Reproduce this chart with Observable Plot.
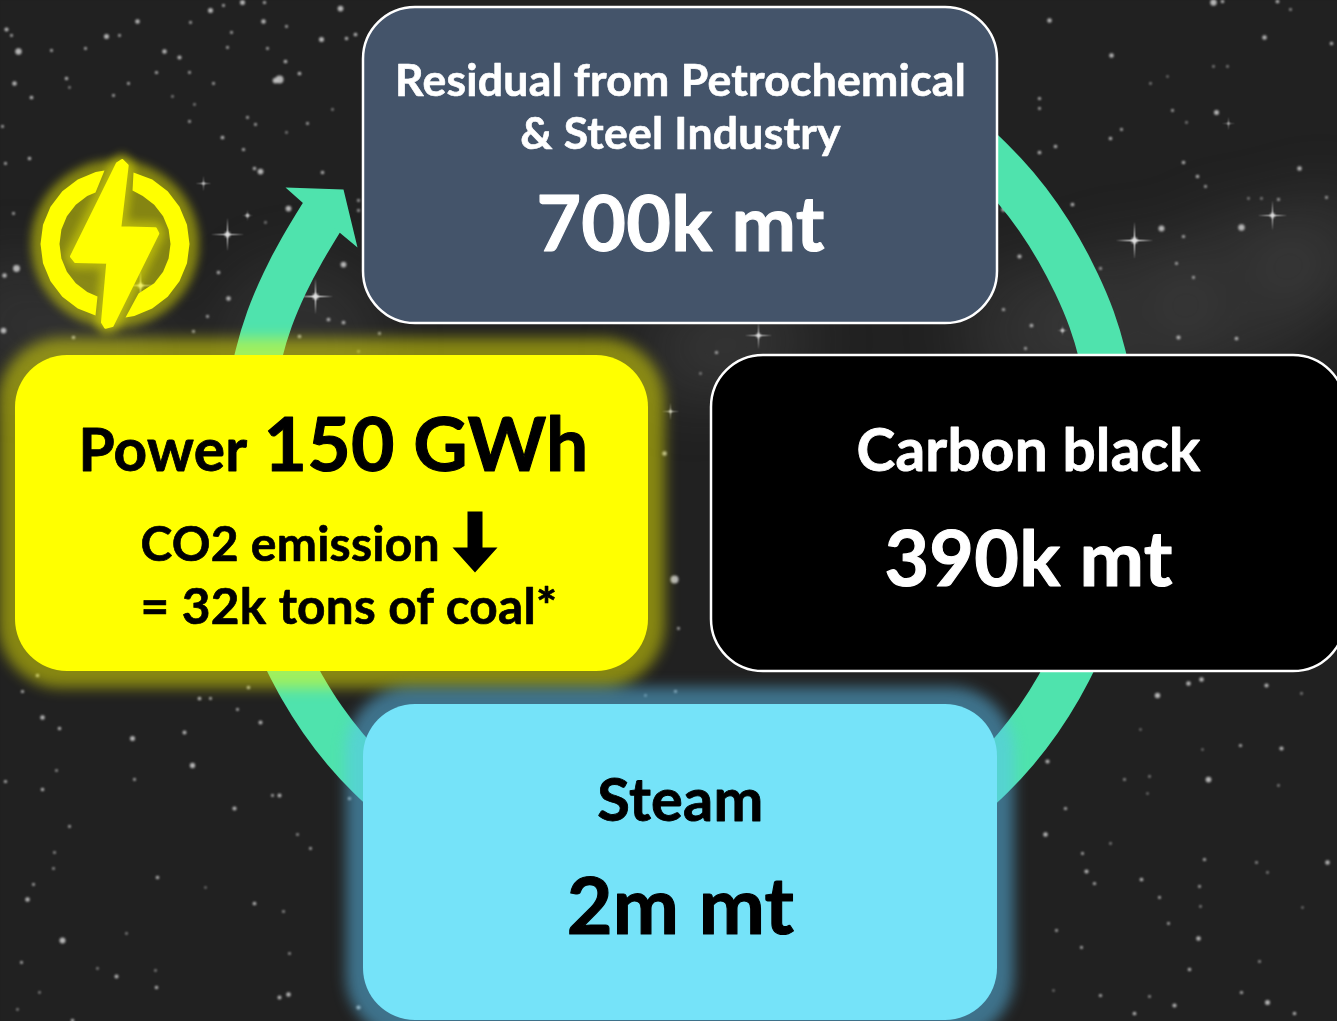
<!DOCTYPE html>
<html><head><meta charset="utf-8">
<style>html,body{margin:0;padding:0;background:#212121;overflow:hidden}svg{display:block;max-width:none}svg text{letter-spacing:.25px}</style>
<script src="https://cdn.jsdelivr.net/npm/d3@7"></script>
<script src="https://cdn.jsdelivr.net/npm/@observablehq/plot@0.6"></script>
</head><body><div id="chart"></div>
<script>
const residualTitle = ["Residual from Petrochemical", "& Steel Industry"];
const residualValue = "700k mt";
const carbonTitle = "Carbon black";
const carbonValue = "390k mt";
const steamTitle = "Steam";
const steamValue = "2m mt";
const powerTitle = "Power";
const powerValue = "150 GWh";
const powerNotes = ["CO2 emission", "= 32k tons of coal*"];

const ringRight = [[961,133],[990,160],[1015,187],[1038,217],[1058.5,249.5],[1076,283],[1091,318.5],[1102,355],[1110,392],[1116,430],[1117,468],[1116,506],[1110,544],[1102,581],[1091,617.5],[1076,653],[1058.5,686.5],[1038,719],[1015,749],[990,776],[961,803]];
const ringLeft = [[399,803],[370,776],[345,749],[322,719],[301.5,686.5],[284,653],[269,617.5],[258,581],[250,544],[244,506],[243,468],[244,430],[250,392],[258,355],[269,318.5],[284,283],[301.5,249.5],[321,217],[328,206]];
const arrowHead = [[285,187],[343,189],[357,247],[339,232],[303,203]];
const downArrow = [[467,511],[482,511],[482,547],[497,547],[474.5,572],[452,547],[467,547]];
const bolt = [[121.7,160],[126.7,165],[119.3,227.3],[155,228.3],[157.3,233],[111.7,325],[105,326.7],[102,321.7],[107.3,261.7],[75,261],[71,256],[116.7,163.3],[121.7,160]];
const iconLeft = [[104,170],[95.2,171.5],[77.25,179],[61.8,190.8],[50,206.25],[42.5,224.2],[40,243.5],[42.5,262.8],[50,280.75],[61.8,296.2],[77.25,308],[95,315],[97,296],[86.75,291.6],[75.3,282.7],[66.4,271.25],[60.9,257.9],[59,243.5],[60.9,229.1],[66.4,215.75],[75.3,204.3],[86.75,195.4],[95,192]];
const iconRight = [[133,172],[151.75,179],[167.2,190.8],[179,206.25],[186.5,224.2],[189,243.5],[186.5,262.8],[179,280.75],[167.2,296.2],[151.75,308],[133.8,315.5],[125,317],[138,293],[153.7,282.7],[162.6,271.25],[168.1,257.9],[170,243.5],[168.1,229.1],[162.6,215.75],[153.7,204.3],[142.25,195.4],[132,190]];

const stars = [[340,8,2.5],[210,10,2.2],[242,2,2.2],[223,5,1.3],[264,2,1.4],[263,21,2],[137,21,2],[190,22,1.2],[286,26,1.2],[6,29,1.8],[11,35,1.2],[106,36,2.2],[119,35,1.2],[231,32,1.2],[355,34,1.6],[321,39,2.2],[346,38,1.5],[18,51,2.8],[51,50,1.3],[85,48,1.3],[164,51,2],[179,57,1.8],[227,47,1.2],[267,48,1.2],[285,61,1.6],[299,73,1.6],[279,79,3.5],[275,80,2.5],[156,72,1.4],[189,72,1.2],[66,78,1.5],[14,83,2],[128,83,1.3],[213,83,1.2],[69,87,1],[31,97,1.6],[113,95,1.2],[172,96,1],[194,104,1],[247,117,1.2],[255,124,1.2],[189,121,1.2],[307,123,1.2],[222,137,1.6],[2,126,1.2],[332,109,1],[243,149,1.4],[286,132,1],[29,158,1.5],[5,163,1.3],
[260,171,2.5],[254,168,1.5],[322,172,1.5],[288,208,2.5],[247,215,1.5],[265,222,1],[343,264,2.5],[16,268,3],[4,275,2],[228,298,2],[218,272,1.5],[207,316,1.3],[328,319,1.6],[343,322,1.6],[3,330,2.5],[193,331,1.3],[299,336,1.5],[379,333,1.2],[358,351,1],[73,337,1.5],[13,213,1.2],[358,200,1.2],[358,210,1.2],
[674,579,3.5],[664,453,2],[678,628,1.2],[716,352,1.4],[700,373,1],[645,695,1],[675,691,1.2],
[1039,152,1.6],[1055,146,1.5],[1110,138,1.5],[1121,129,1.3],[1183,162,1.5],[1197,176,1.5],[1299,168,2],[1205,186,1.2],[1248,198,1],[1261,198,1],[1278,199,1.2],[1326,197,1.2],[1072,204,1.6],[1003,209,2],[1161,228,2.6],[1241,227,2.8],[1183,236,1.4],[1019,256,1.8],[1100,268,1.2],[1176,263,1.3],[1193,277,1.3],[1003,309,1.4],[1031,325,1.6],[1062,330,1.5],[1178,337,1.8],[1236,338,1.6],[1025,348,1.3],
[1049,20,2],[1213,2,2.8],[1222,1,1.5],[1277,1,1.6],[1290,9,1.1],[1264,37,2],[1331,43,1.5],[1111,55,2],[1213,66,1],[1227,66,1],[1150,83,1],[1167,76,.9],[1039,98,1.4],[1039,108,1.2],[1172,110,1.2],[1216,112,2.2],[1186,122,1],
[1201,679,2],[1188,683,2],[1266,685,1.8],[1157,695,2.4],[1301,693,1],[1140,729,.9],[1240,745,1.4],[1281,748,1.8],[1202,749,.9],[1047,761,1.8],[1208,779,2.5],[1124,779,1.1],[1149,776,1],[1147,793,.9],[1278,785,1],[1065,808,1.4],[1045,834,2],[1110,843,1],[1082,853,1.3],[1204,859,1.4],[1256,862,1.1],[1327,862,2],[1267,872,1],[1086,871,1.8],[1094,883,1.4],[1141,879,1.6],[1199,886,1.2],[1159,897,1.3],[1200,906,1],[1302,907,.9],[1168,923,1.2],[1056,930,1.2],[1198,938,2],[1081,947,1.3],[1259,961,1.1],[1189,969,1.5],[1241,992,1.4],[1100,995,1.4],[1149,996,1.1],[1267,1002,2.2],[1174,1005,1.8],[1294,1013,1.5],[1134,1013,1.6],[1053,990,.9],
[37,675,1.5],[22,691,1.4],[199,698,1.6],[210,698,1.3],[248,687,1.5],[237,709,1.3],[42,717,2],[59,728,1.5],[132,738,2.2],[184,732,1.7],[260,722,1.7],[192,765,2.3],[56,770,1.1],[134,779,1.2],[5,781,1.4],[42,789,1.5],[279,795,1.7],[272,795,1.2],[234,808,1.8],[69,826,1.2],[297,834,1.1],[310,848,1.2],[54,852,1.1],[53,868,1.1],[157,877,1.5],[33,884,1.2],[205,887,.9],[27,899,2],[254,903,1.6],[283,911,1.1],[62,940,2.6],[126,933,1],[21,962,1.3],[289,953,1.1],[116,976,1.7],[155,970,1],[97,968,1],[156,987,1.5],[39,992,1],[279,997,1.7],[288,994,2],[17,1009,1],[72,1020,1.5],[358,1007,1.8],[349,798,1.4]];
const sparkles = [[227,234,17],[315,296,18],[140,285,16],[203,183,8],[1134,240,19],[1272,215,15],[1228,123,7],[758,335,14],[670,411,9],[247,215,6],[1062,330,6]];
const haze = [[15,320,65],[110,350,60],[300,345,85],[690,350,55],[760,340,55],[1030,330,70],[1130,320,80],[1240,290,80],[1320,250,60]];

const sparkleSymbol = {draw(ctx, size) {
  const s = Math.sqrt(size / Math.PI), a = s * 0.05;
  ctx.moveTo(0, -s); ctx.lineTo(a, -a); ctx.lineTo(s, 0); ctx.lineTo(a, a);
  ctx.lineTo(0, s); ctx.lineTo(-a, a); ctx.lineTo(-s, 0); ctx.lineTo(-a, -a); ctx.closePath();
}};

const font = {fontFamily: "Lato", fontWeight: 700, lineAnchor: "bottom"};
const text = (s, x, y, fontSize, fill, extra = {}) =>
  Plot.text([s], {x: () => x, y: () => y, text: d => d, fontSize, fill, stroke: fill, strokeWidth: fontSize / 70, textAnchor: "middle", ...font, ...extra});
const pathMark = (pts, opts) => Plot.line(pts, {x: d => d[0], y: d => d[1], ...opts});
const box = (x1, x2, y1, y2, opts) => Plot.rect([0], {x1: () => x1, x2: () => x2, y1: () => y1, y2: () => y2, ...opts});

const ringStyle = {stroke: "#4FE3AD", strokeWidth: 47, strokeLinecap: "butt", strokeLinejoin: "round", curve: "natural"};
const iconStyle = {fill: "#FFFF00", stroke: "none", curve: "linear"};

const chart = Plot.plot({
  width: 1337, height: 1021, margin: 0,
  x: {domain: [0, 1337], axis: null},
  y: {domain: [1021, 0], axis: null},
  r: {type: "identity"},
  marks: [
    Plot.frame({fill: "#212121", stroke: "none"}),
    Plot.dot(haze, {x: d => d[0], y: d => d[1], r: d => d[2], fill: "#7a7a7a", fillOpacity: 0.16, imageFilter: "blur(30px)"}),
    Plot.dot(stars, {x: d => d[0], y: d => d[1], r: d => d[2] * 1.15, fill: "#c4c4c4", fillOpacity: 0.9, imageFilter: "blur(0.8px)"}),
    Plot.dot(sparkles, {x: d => d[0], y: d => d[1], r: d => d[2], symbol: sparkleSymbol, fill: "#dddddd", fillOpacity: 0.8, imageFilter: "blur(0.6px)"}),
    Plot.dot(sparkles, {x: d => d[0], y: d => d[1], r: d => d[2] * 0.16, fill: "#dedede", imageFilter: "blur(1px)"}),
    pathMark(ringRight, ringStyle),
    pathMark(ringLeft, ringStyle),
    pathMark(arrowHead, {fill: "#4FE3AD", stroke: "none", curve: "linear"}),
    // yellow and blue glows sit over the ring
    box(-2, 665, 338, 688, {fill: "#FFFF00", fillOpacity: 0.46, rx: 64, imageFilter: "blur(7px)"}),
    box(346, 1014, 687, 1040, {fill: "#5CC4F5", fillOpacity: 0.5, rx: 64, imageFilter: "blur(7px)"}),
    Plot.dot([0], {x: () => 114.5, y: () => 243.5, r: () => 84, fill: "#FFFF00", fillOpacity: 0.45, imageFilter: "blur(5px)"}),
    pathMark(bolt, {stroke: "#FFFF00", strokeWidth: 14, strokeOpacity: 0.4, fill: "none", curve: "linear", imageFilter: "blur(4px)"}),
    pathMark(iconLeft, iconStyle),
    pathMark(iconRight, iconStyle),
    pathMark(bolt, {fill: "#FFFF00", stroke: "#FFFF00", strokeWidth: 3, strokeLinejoin: "round", curve: "linear"}),
    box(363, 997, 7, 323, {fill: "#44546A", stroke: "#FFFFFF", strokeWidth: 2.5, rx: 52}),
    box(711, 1345, 355, 671, {fill: "#000000", stroke: "#FFFFFF", strokeWidth: 2.5, rx: 52}),
    box(15, 648, 355, 671, {fill: "#FFFF00", rx: 52}),
    box(363, 997, 704, 1020, {fill: "#75E3F9", rx: 52}),
    text(residualTitle[0], 680, 95, 44.5, "#FFFFFF"),
    text(residualTitle[1], 680, 148, 44.5, "#FFFFFF"),
    text(residualValue, 680, 250, 77, "#FFFFFF"),
    text(carbonTitle, 1028, 470, 58.5, "#FFFFFF"),
    text(carbonValue, 1028, 585, 77, "#FFFFFF"),
    text(steamTitle, 680, 820, 59.5, "#000000"),
    text(steamValue, 680, 933, 79, "#000000"),
    text(powerTitle, 78, 470, 58.5, "#000000", {textAnchor: "start"}),
    text(powerValue, 263, 470, 75, "#000000", {textAnchor: "start"}),
    text(powerNotes[0], 140, 560, 48, "#000000", {textAnchor: "start"}),
    text(powerNotes[1], 140, 623, 49.5, "#000000", {textAnchor: "start"}),
    pathMark(downArrow, {fill: "#000000", stroke: "none", curve: "linear"})
  ]
});
document.getElementById("chart").append(chart);
</script></body></html>
